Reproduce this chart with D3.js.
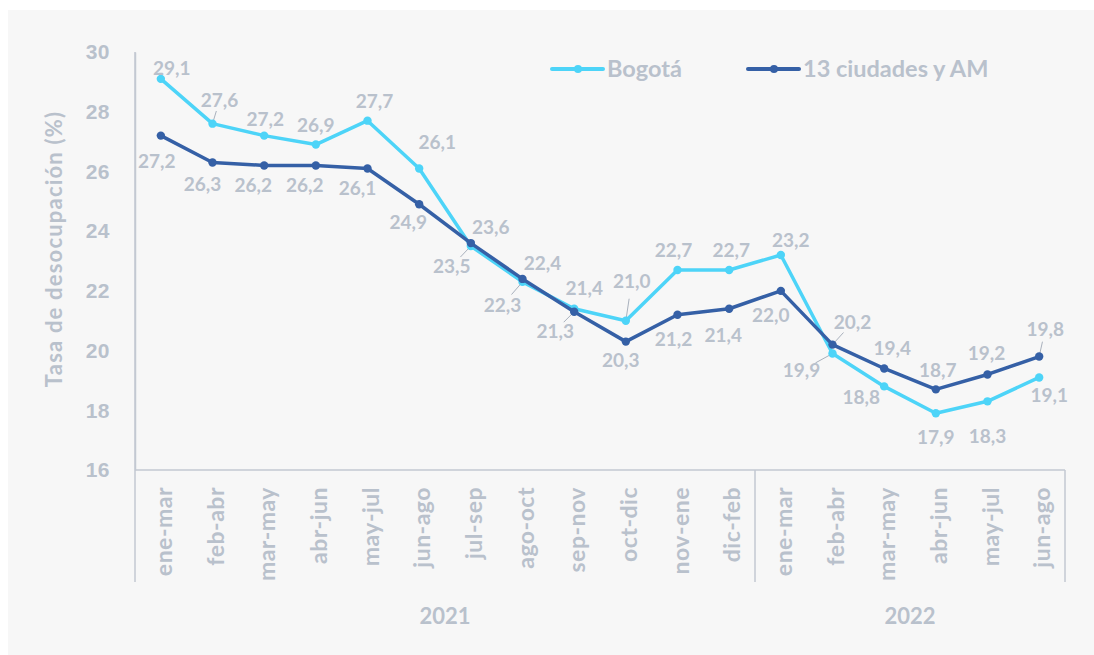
<!DOCTYPE html>
<html>
<head>
<meta charset="utf-8">
<script src="https://cdn.jsdelivr.net/npm/d3@7"></script>
<style>
  html, body { margin: 0; padding: 0; background: #ffffff; }
  svg { display: block; font-family: Lato, "Open Sans", sans-serif; }
</style>
</head>
<body>
<div id="chart"></div>
<script>
// periods on the x axis
var periods = ["ene-mar","feb-abr","mar-may","abr-jun","may-jul","jun-ago","jul-sep","ago-oct","sep-nov","oct-dic","nov-ene","dic-feb",
               "ene-mar","feb-abr","mar-may","abr-jun","may-jul","jun-ago"];
var years = ["2021", "2022"];
var yearCounts = [12, 6];

var bogota = [29.1, 27.6, 27.2, 26.9, 27.7, 26.1, 23.5, 22.3, 21.4, 21.0, 22.7, 22.7, 23.2, 19.9, 18.8, 17.9, 18.3, 19.1];
var ciudades = [27.2, 26.3, 26.2, 26.2, 26.1, 24.9, 23.6, 22.4, 21.3, 20.3, 21.2, 21.4, 22.0, 20.2, 19.4, 18.7, 19.2, 19.8];

var yTicks = [16, 18, 20, 22, 24, 26, 28, 30];

// label offsets (px from point) and which ones get a leader line
var bogotaOff = [[11,-11],[7,-23],[1,-16],[0,-19],[7,-20],[18,-26],[-19,20],[-20,23],[10,-21],[6,-40],[-4,-20],[2,-20],[10,-15],[-31,17],[-23,11],[0,24],[0,35],[10,18]];
var bogotaLead = [1, 6, 7, 9, 13];
var ciudadesOff = [[-4,26],[-10,22],[-11,20],[-11,20],[-10,20],[-11,18],[20,-16],[20,-16],[-19,19],[-5,19],[-4,24],[-6,26],[-10,24],[20,-22],[8,-20],[2,-19],[-1,-21],[6,-27]];
var ciudadesLead = [8, 13, 17];

var W = 1094, H = 655;
var grey = "#b9c1cc";
var axisGrey = "#c3c9d2";
var colBog = "#4dd4f8";
var colCiu = "#3560a6";

var margin = {top: 52, left: 135, right: 29, bottom: 185};
var width = W - margin.left - margin.right;
var height = H - margin.top - margin.bottom;

var svg = d3.select("#chart").append("svg")
    .attr("width", W)
    .attr("height", H);

// panel background
svg.append("rect")
    .attr("x", 8).attr("y", 10)
    .attr("width", W - 8).attr("height", H - 10)
    .attr("fill", "#f7f7f7");

var g = svg.append("g")
    .attr("transform", "translate(" + margin.left + "," + margin.top + ")");

var x = d3.scaleBand()
    .domain(d3.range(periods.length))
    .range([0, width]);

var y = d3.scaleLinear()
    .domain([16, 30])
    .range([height, 0]);

function cx(i) { return x(i) + x.bandwidth() / 2; }

// y axis
var yAxis = g.append("g")
    .call(d3.axisLeft(y).tickValues(yTicks).tickSize(0).tickPadding(25));
yAxis.select(".domain").attr("stroke", axisGrey).attr("stroke-width", 1.5);
yAxis.selectAll("text")
    .attr("fill", grey)
    .style("font-size", "21px")
    .style("font-weight", "bold")
    .style("letter-spacing", "0.5px");

// x axis line
g.append("line")
    .attr("x1", 0).attr("x2", width)
    .attr("y1", height).attr("y2", height)
    .attr("stroke", axisGrey).attr("stroke-width", 1.5);

// vertical separators below axis
var sepBottom = height + 112;
var acc = 0;
var seps = [0];
yearCounts.forEach(function(c) { acc += c; seps.push(acc); });
g.selectAll(".sep")
    .data(seps)
  .enter().append("line")
    .attr("x1", function(d) { return d === 0 ? 0 : x(d - 1) + x.bandwidth(); })
    .attr("x2", function(d) { return d === 0 ? 0 : x(d - 1) + x.bandwidth(); })
    .attr("y1", function(d) { return d === 0 ? 0 : height; })
    .attr("y2", sepBottom)
    .attr("stroke", axisGrey).attr("stroke-width", 1.5);

// category labels
g.selectAll(".cat")
    .data(periods)
  .enter().append("text")
    .attr("transform", function(d, i) { return "translate(" + (cx(i) + 11) + "," + (height + 17) + ") rotate(-90)"; })
    .attr("text-anchor", "end")
    .attr("fill", grey)
    .style("font-size", "23px")
    .style("font-weight", "bold")
    .style("letter-spacing", "0.5px")
    .text(function(d) { return d; });

// year labels
var start = 0;
years.forEach(function(yr, k) {
  var a = x(start), b = x(start + yearCounts[k] - 1) + x.bandwidth();
  g.append("text")
    .attr("x", (a + b) / 2)
    .attr("y", height + 154)
    .attr("text-anchor", "middle")
    .attr("fill", grey)
    .style("font-size", "22px")
    .style("font-weight", "bold")
    .text(yr);
  start += yearCounts[k];
});

// y axis title
svg.append("text")
    .attr("transform", "translate(62," + 249 + ") rotate(-90)")
    .attr("text-anchor", "middle")
    .attr("fill", grey)
    .style("font-size", "22px")
    .style("font-weight", "bold")
    .style("letter-spacing", "1.2px")
    .text("Tasa de desocupación (%)");

var line = d3.line()
    .x(function(d, i) { return cx(i); })
    .y(function(d) { return y(d); });

function drawSeries(vals, color, offs, leads) {
  // leader lines
  leads.forEach(function(i) {
    var px = cx(i), py = y(vals[i]);
    var lx = px + offs[i][0] * 0.55, ly = py + offs[i][1] * 0.55;
    g.append("line")
      .attr("x1", px).attr("y1", py)
      .attr("x2", lx).attr("y2", ly)
      .attr("stroke", "#a9b1bd").attr("stroke-width", 1);
  });

  g.append("path")
    .datum(vals)
    .attr("fill", "none")
    .attr("stroke", color)
    .attr("stroke-width", 3.5)
    .attr("stroke-linejoin", "round")
    .attr("d", line);

  g.selectAll(null)
    .data(vals)
  .enter().append("circle")
    .attr("cx", function(d, i) { return cx(i); })
    .attr("cy", function(d) { return y(d); })
    .attr("r", 4.2)
    .attr("fill", color);
}

function drawLabels(vals, offs) {
  g.selectAll(null)
    .data(vals)
  .enter().append("text")
    .attr("x", function(d, i) { return cx(i) + offs[i][0]; })
    .attr("y", function(d, i) { return y(d) + offs[i][1]; })
    .attr("dy", "0.36em")
    .attr("text-anchor", "middle")
    .attr("fill", grey)
    .style("font-size", "19px")
    .style("font-weight", "bold")
    .text(function(d) { return d.toFixed(1).replace(".", ","); });
}

drawSeries(bogota, colBog, bogotaOff, bogotaLead);
drawSeries(ciudades, colCiu, ciudadesOff, ciudadesLead);
drawLabels(bogota, bogotaOff);
drawLabels(ciudades, ciudadesOff);

// legend
var legend = [
  {name: "Bogotá", color: colBog, x: 552},
  {name: "13 ciudades y AM", color: colCiu, x: 748}
];
legend.forEach(function(l) {
  var lg = svg.append("g").attr("transform", "translate(" + l.x + ",69)");
  lg.append("line")
    .attr("x1", 0).attr("x2", 51)
    .attr("stroke", l.color).attr("stroke-width", 4)
    .attr("stroke-linecap", "round");
  lg.append("circle").attr("cx", 26).attr("r", 4).attr("fill", l.color);
  lg.append("text")
    .attr("x", 55).attr("dy", "0.36em")
    .attr("fill", grey)
    .style("font-size", "23.5px")
    .style("font-weight", "bold")
    .text(l.name);
});
</script>
</body>
</html>
